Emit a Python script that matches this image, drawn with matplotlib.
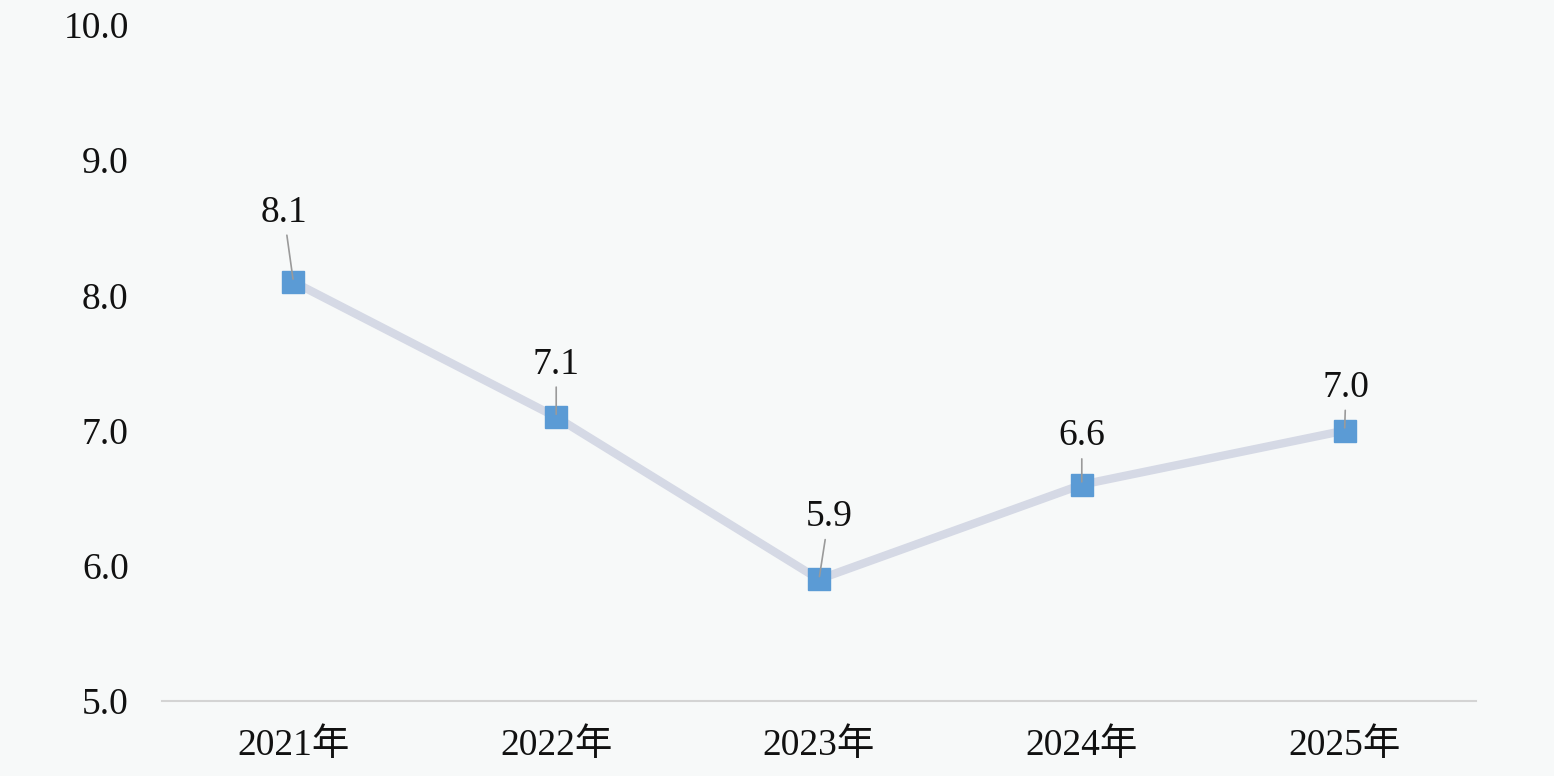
import matplotlib
matplotlib.use("Agg")
import matplotlib.pyplot as plt

years = ["2021年", "2022年", "2023年", "2024年", "2025年"]
values = [8.1, 7.1, 5.9, 6.6, 7.0]
yticks = [5.0, 6.0, 7.0, 8.0, 9.0, 10.0]

# label offsets in points (style only)
label_offsets = [(-7, 50), (0, 38), (7, 45), (0, 35), (1, 31)]

FONT = ["Liberation Serif", "Noto Sans CJK SC", "DejaVu Sans"]
BG = "#f7f9f9"
FS = 27

fig = plt.figure(figsize=(15.54, 7.76), dpi=100, facecolor=BG)
ax = fig.add_axes([162/1554, 1 - 701/776, (1476 - 162)/1554, (701 - 25)/776])
ax.set_facecolor(BG)

x = list(range(len(years)))
ax.plot(x, values, color="#d5d9e5", lw=6, solid_capstyle="round", zorder=2)
ax.plot(x, values, ls="none", marker="s", ms=16.5, color="#5b9bd5",
        markeredgecolor="#5b9bd5", zorder=3)

for xi, v, off in zip(x, values, label_offsets):
    ax.annotate(f"{v:.1f}", xy=(xi, v), xytext=off, textcoords="offset points",
                ha="center", va="center", fontsize=FS, family=FONT, color="#111111",
                arrowprops=dict(arrowstyle="-", color="#9a9a9a", lw=1.2,
                                shrinkA=2, shrinkB=2), zorder=4)

ax.set_xlim(-0.5, len(years) - 0.5)
ax.set_ylim(5.0, 10.0)
ax.set_yticks(yticks)
ax.set_yticklabels([f"{t:.1f}" for t in yticks], family=FONT, fontsize=FS, color="#111111")
ax.set_xticks(x)
ax.set_xticklabels(years, family=FONT, fontsize=FS, color="#111111")
ax.tick_params(axis="y", length=0, pad=24)
ax.tick_params(axis="x", length=0, pad=20)

for s in ["top", "right", "left"]:
    ax.spines[s].set_visible(False)
ax.spines["bottom"].set_color("#d4d4d4")
ax.spines["bottom"].set_linewidth(1.5)

fig.savefig("out.png", dpi=100, facecolor=BG)
